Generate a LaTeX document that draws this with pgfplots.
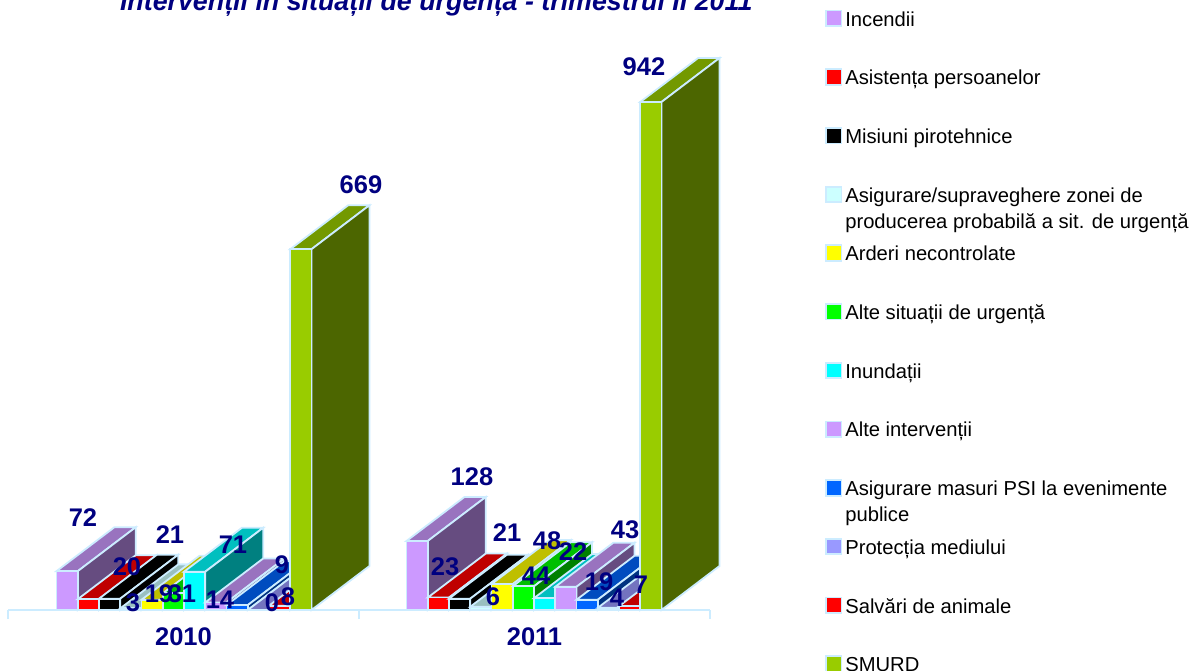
\documentclass[border=0pt]{standalone}
\usepackage{fontspec}
\setmainfont{Liberation Sans}
\usepackage{pgfplots}
\pgfplotsset{compat=1.18}
\definecolor{navy}{HTML}{000080}
\definecolor{edge}{HTML}{CCECFF}
\definecolor{cInc}{HTML}{CC99FF}
\definecolor{cAsi}{HTML}{FF0000}
\definecolor{cMis}{HTML}{000000}
\definecolor{cSup}{HTML}{CCFFFF}
\definecolor{cArd}{HTML}{FFFF00}
\definecolor{cAlt}{HTML}{00FF00}
\definecolor{cInu}{HTML}{00FFFF}
\definecolor{cInt}{HTML}{CC99FF}
\definecolor{cPsi}{HTML}{0066FF}
\definecolor{cPro}{HTML}{9999FF}
\definecolor{cSal}{HTML}{FF0000}
\definecolor{cSmu}{HTML}{99CC00}
\newcommand{\barfaces}[4]{% left x, value, colour, extra options for the front
  \pgfmathsetmacro\xa{#1}\pgfmathsetmacro\xb{#1+21.25}
  \pgfmathsetmacro\xc{#1+58}\pgfmathsetmacro\xd{#1+79.25}
  \pgfmathsetmacro\yb{#2+81.6}
  \addplot[forget plot,fill=#3!75!black,draw=edge,line width=1.8pt] coordinates {(\xa,#2)(\xb,#2)(\xd,\yb)(\xc,\yb)} -- cycle;
  \addplot[forget plot,fill=#3!50!black,draw=edge,line width=1.8pt] coordinates {(\xb,0)(\xd,81.6)(\xd,\yb)(\xb,#2)} -- cycle;
  \addplot[#4,fill=#3,draw=edge,line width=1.8pt] coordinates {(\xa,0)(\xb,0)(\xb,#2)(\xa,#2)} -- cycle;
}
\newcommand{\serie}[5]{% index, value 2010, value 2011, colour, legend entry
  \barfaces{56.5+21.25*#1}{#2}{#4}{}
  \addlegendentry{\smash{\parbox[t]{345pt}{\raggedright #5}}\rule[-38pt]{0pt}{58.4pt}}
  \barfaces{406.5+21.25*#1}{#3}{#4}{forget plot}
}
\newcommand{\lab}[3]{\node[font=\fontsize{25.5}{25.5}\selectfont\bfseries,text=navy,inner sep=0pt] at (axis cs:#1,{(610-#2)/0.5393}) {#3};}
\begin{document}
\begin{tikzpicture}
\useasboundingbox (0,0) rectangle (1192pt,670pt);
\clip (0,0) rectangle (1192pt,670pt);
\begin{axis}[
  at={(8pt,60pt)},anchor=south west,
  scale only axis,width=702pt,height=610pt,
  xmin=8,xmax=710,ymin=0,ymax=1131.1,
  clip=false,
  axis y line=none,
  axis x line*=bottom,
  axis line style={edge,line width=1.8pt},
  xtick={8,359,710},xticklabels={},
  tick align=outside,
  major tick length=9pt,
  tick style={edge,line width=1.8pt},
  extra x ticks={183.5,534.5},
  extra x tick labels={2010,2011},
  extra x tick style={major tick length=0pt,
    tick label style={font=\fontsize{25.5}{25.5}\selectfont\bfseries,text=navy,yshift=-14pt}},
  ytick=\empty,
  title={Intervenții în situații de urgență - trimestrul II 2011},
  title style={at={(0.61,0.973)},anchor=base,font=\fontsize{26.8}{26.8}\selectfont\bfseries\itshape,text=navy,inner sep=0pt},
  legend image code/.code={\draw[#1,line width=1.8pt] (0pt,-9.5pt) rectangle (15.5pt,6pt);},
  legend cell align=left,
  legend style={at={(817pt,604.4pt)},anchor=north west,draw=none,fill=none,
    /tikz/every node/.append style={font=\fontsize{20.2}{26}\selectfont,text=black,inner sep=0pt,outer sep=0pt},
    /tikz/column 1/.style={column sep=3pt},
    row sep=36.8pt,inner sep=0pt,outer sep=0pt},
]
\serie{0}{72}{128}{cInc}{Incendii}
\serie{1}{20}{23}{cAsi}{Asistența persoanelor}
\serie{2}{21}{21}{cMis}{Misiuni pirotehnice}
\serie{3}{3}{6}{cSup}{Asigurare/supraveghere zonei de\\producerea probabilă a sit. de urgență}
\serie{4}{19}{48}{cArd}{Arderi necontrolate}
\serie{5}{31}{44}{cAlt}{Alte situații de urgență}
\serie{6}{71}{22}{cInu}{Inundații}
\serie{7}{14}{43}{cInt}{Alte intervenții}
\serie{8}{9}{19}{cPsi}{Asigurare masuri PSI la evenimente\\publice}
\serie{9}{0}{4}{cPro}{Protecția mediului}
\serie{10}{8}{7}{cSal}{Salvări de animale}
\serie{11}{669}{942}{cSmu}{SMURD}
\lab{83}{518}{72}\lab{127}{567}{20}\lab{170}{535}{21}\lab{133}{603}{3}
\lab{159}{594}{19}\lab{182}{594}{31}\lab{233}{545}{71}\lab{220}{600}{14}
\lab{282}{565}{9}\lab{272}{603}{0}\lab{288}{597}{8}\lab{361}{185}{669}
\lab{472}{477}{128}\lab{445}{567}{23}\lab{507}{533}{21}\lab{493}{597}{6}
\lab{547}{541}{48}\lab{536}{576}{44}\lab{573}{552}{22}\lab{625}{530}{43}
\lab{599}{582}{19}\lab{617}{598}{4}\lab{641}{585}{7}\lab{644}{67}{942}
\end{axis}
\end{tikzpicture}
\end{document}
